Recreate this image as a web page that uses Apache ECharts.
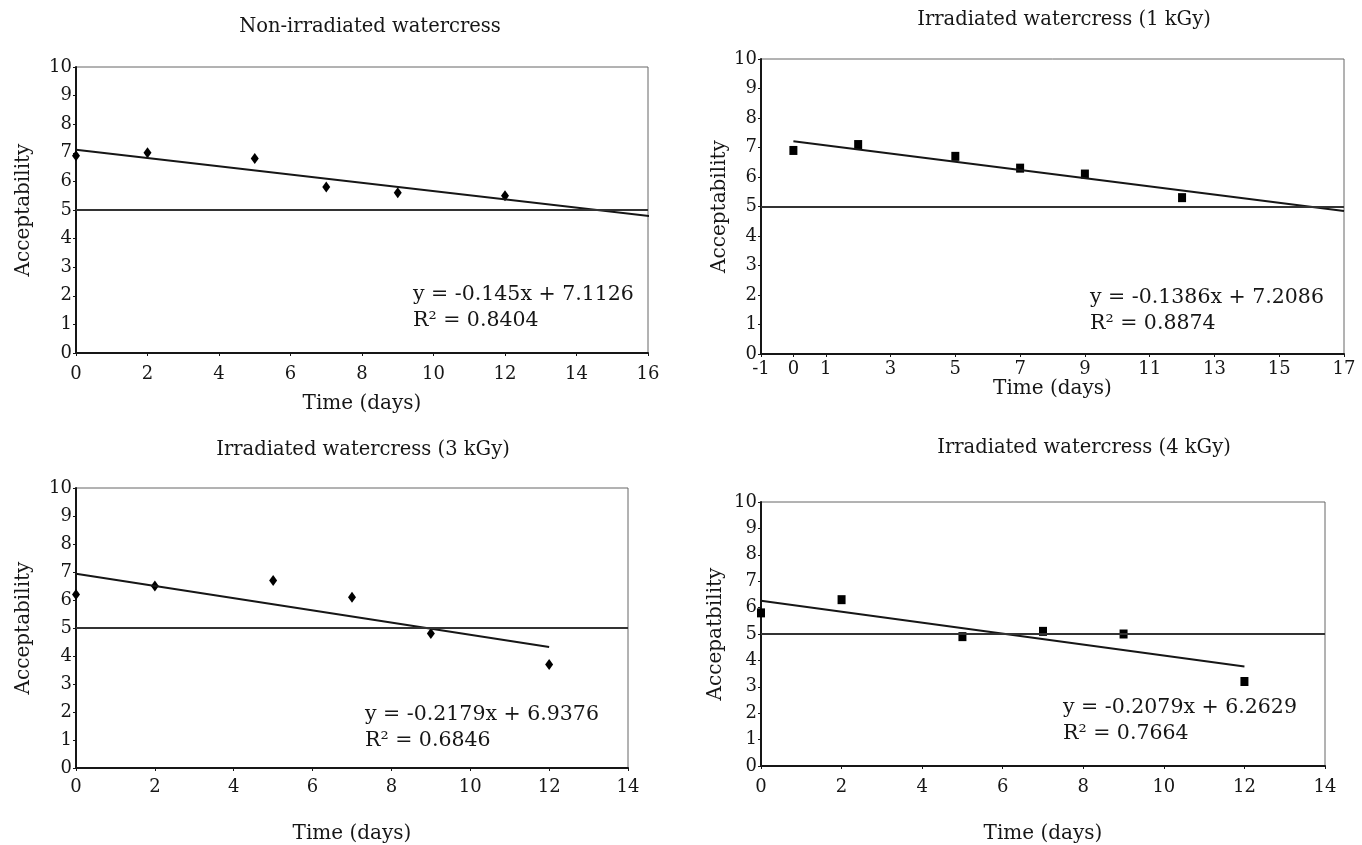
<!DOCTYPE html>
<html>
<head>
<meta charset="utf-8">
<script src="https://cdn.jsdelivr.net/npm/echarts@6/dist/echarts.min.js"></script>
<style>
  html, body { margin: 0; background: #fff; }
  #chart { width: 1362px; height: 845px; }
</style>
</head>
<body>
<div id="chart"></div>
<script>
// storage days, same for every panel
const days = [0, 2, 5, 7, 9, 12];

// acceptability scores
const accControl = [6.9, 7.0, 6.8, 5.8, 5.6, 5.5];
const acc1kGy = [6.9, 7.1, 6.7, 6.3, 6.1, 5.3];
const acc3kGy = [6.2, 6.5, 6.7, 6.1, 4.8, 3.7];
const acc4kGy = [5.8, 6.3, 4.9, 5.1, 5.0, 3.2];

// trend line ends [x, y] as drawn
const trendControl = [[0, 7.11], [16.4, 4.74]];
const trend1kGy = [[0, 7.21], [17, 4.85]];
const trend3kGy = [[0, 6.94], [12, 4.32]];
const trend4kGy = [[0, 6.26], [12, 3.77]];

const titles = [
  'Non-irradiated watercress',
  'Irradiated watercress (1 kGy)',
  'Irradiated watercress (3 kGy)',
  'Irradiated watercress (4 kGy)'
];
const equations = [
  'y = -0.145x + 7.1126\nR² = 0.8404',
  'y = -0.1386x + 7.2086\nR² = 0.8874',
  'y = -0.2179x + 6.9376\nR² = 0.6846',
  'y = -0.2079x + 6.2629\nR² = 0.7664'
];
const yNames = ['Acceptability', 'Acceptability', 'Acceptability', 'Accepatbility'];
const xName = 'Time (days)';
const limit = 5;
const xTicks1kGy = [-1, 0, 1, 3, 5, 7, 9, 11, 13, 15, 17];

const font = 'DejaVu Serif';
const ink = '#161616';

// layout of the four panels (pixels)
const panels = [
  { acc: accControl, trend: trendControl, sym: 'diamond', size: [8, 11],
    grid: { left: 76, top: 67, width: 572, height: 286 },
    x: { min: 0, max: 16, interval: 2 }, yGap: 42, xGap: 41, xMargin: 12,
    title: [370, 17], eq: [413, 282] },
  { acc: acc1kGy, trend: trend1kGy, sym: 'rect', size: [8, 9],
    grid: { left: 761, top: 59, width: 583, height: 295 },
    x: { min: -1, max: 17, interval: 1, custom: xTicks1kGy }, yGap: 24, xGap: 24, xMargin: 6,
    title: [1064, 10], eq: [1090, 285] },
  { acc: acc3kGy, trend: trend3kGy, sym: 'diamond', size: [8, 11],
    grid: { left: 76, top: 488, width: 552, height: 280 },
    x: { min: 0, max: 14, interval: 2 }, yGap: 42, xGap: 56, xMargin: 10,
    title: [363, 440], eq: [365, 702] },
  { acc: acc4kGy, trend: trend4kGy, sym: 'rect', size: [8, 9],
    grid: { left: 761, top: 502, width: 564, height: 264 },
    x: { min: 0, max: 14, interval: 2 }, yGap: 35, xGap: 58, xMargin: 12,
    title: [1084, 438], eq: [1063, 695] }
];

const chart = echarts.init(document.getElementById('chart'));

let grid = [], xAxis = [], yAxis = [], series = [], title = [];

panels.forEach(function (p, i) {
  grid.push(Object.assign({ show: true, borderColor: '#666', borderWidth: 1 }, p.grid));

  let xa = {
    type: 'value', gridIndex: i, min: p.x.min, max: p.x.max, interval: p.x.interval,
    name: xName, nameLocation: 'middle', nameGap: p.xGap,
    nameTextStyle: { fontFamily: font, fontSize: 20, color: ink },
    axisLine: { onZero: false, lineStyle: { color: ink, width: 2 } },
    axisTick: { show: true, length: 3, lineStyle: { color: ink } },
    axisLabel: { fontFamily: font, fontSize: 18, color: ink, margin: p.xMargin },
    splitLine: { show: false }
  };
  if (p.x.custom) {
    xa.axisLabel.customValues = p.x.custom;
    xa.axisTick.customValues = p.x.custom;
  }
  xAxis.push(xa);

  yAxis.push({
    type: 'value', gridIndex: i, min: 0, max: 10, interval: 1,
    name: yNames[i], nameLocation: 'middle', nameGap: p.yGap,
    nameTextStyle: { fontFamily: font, fontSize: 20, color: ink },
    axisLine: { show: true, onZero: false, lineStyle: { color: ink, width: 2 } },
    axisTick: { show: true, length: 3, lineStyle: { color: ink } },
    axisLabel: { fontFamily: font, fontSize: 18, color: ink, margin: 4 },
    splitLine: { show: false }
  });

  series.push({
    type: 'scatter', xAxisIndex: i, yAxisIndex: i, clip: false,
    symbol: p.sym, symbolSize: p.size,
    itemStyle: { color: '#000', opacity: 1 },
    data: days.map(function (d, k) { return [d, p.acc[k]]; }),
    markLine: {
      silent: true, symbol: 'none', label: { show: false },
      lineStyle: { color: '#333', width: 2, type: 'solid' },
      data: [{ yAxis: limit }]
    }
  });

  series.push({
    type: 'line', xAxisIndex: i, yAxisIndex: i, clip: false,
    showSymbol: false, symbol: 'none',
    lineStyle: { color: ink, width: 2 },
    data: p.trend
  });

  title.push({
    text: titles[i], left: p.title[0], top: p.title[1], textAlign: 'center', padding: 0,
    textStyle: { fontFamily: font, fontSize: 19.5, fontWeight: 'normal', color: ink }
  });
  title.push({
    text: equations[i], left: p.eq[0], top: p.eq[1], padding: 0,
    textStyle: { fontFamily: font, fontSize: 20.5, fontWeight: 'normal', color: ink, lineHeight: 26 }
  });
});

chart.setOption({
  animation: false,
  backgroundColor: '#fff',
  title: title,
  grid: grid,
  xAxis: xAxis,
  yAxis: yAxis,
  series: series
});
</script>
</body>
</html>
